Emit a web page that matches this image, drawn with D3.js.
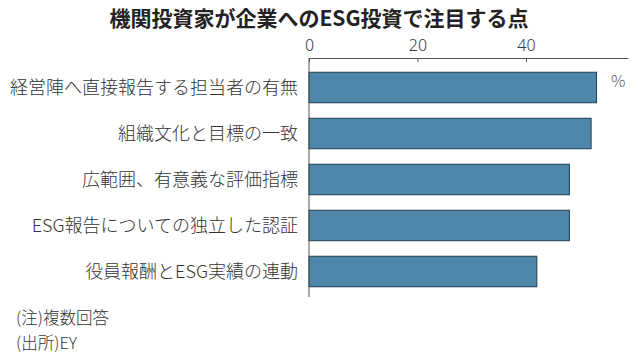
<!DOCTYPE html>
<html><head><meta charset="utf-8">
<script src="https://cdn.jsdelivr.net/npm/d3@7"></script>
<style>
html,body{margin:0;padding:0;background:#fff;}
svg{display:block;font-family:"Noto Sans CJK JP","Noto Sans",sans-serif;}
</style></head>
<body><svg id="c" width="638" height="357"></svg>
<script>
const title = "機関投資家が企業へのESG投資で注目する点";
const categories = ["経営陣へ直接報告する担当者の有無","組織文化と目標の一致","広範囲、有意義な評価指標","ESG報告についての独立した認証","役員報酬とESG実績の連動"];
const values = [53, 52, 48, 48, 42];
const tickValues = [0, 20, 40];
const unitLabel = "%";
const notes = ["(注)複数回答", "(出所)EY"];

const svg = d3.select("#c");
const x = d3.scaleLinear().domain([0, 58.8]).range([309, 628]);
const y = d3.scaleBand().domain(categories).range([64.5, 294.5]).paddingInner(0.337).paddingOuter(0.1685);

svg.append("text").attr("x", 319).attr("y", 26).attr("text-anchor", "middle")
  .attr("font-size", 21).attr("font-weight", 700).attr("fill", "#222").text(title);

// top axis
const ax = svg.append("g").attr("transform", "translate(0,58)")
  .call(d3.axisTop(x).tickValues(tickValues).tickSize(0).tickPadding(7));
ax.select(".domain").attr("stroke", "#555").attr("stroke-width", 1);
ax.selectAll("text").attr("font-size", 16).attr("fill", "#333").attr("font-weight", 300)
  .attr("font-family", "'Noto Sans','Noto Sans CJK JP',sans-serif");
ax.selectAll(".tick").append("line").attr("y1", 0).attr("y2", 4).attr("stroke", "#555");

// bars
svg.append("g").selectAll("rect").data(values).join("rect")
  .attr("x", x(0)).attr("y", (d, i) => y(categories[i]))
  .attr("width", d => x(d) - x(0)).attr("height", y.bandwidth())
  .attr("fill", "#4e87aa").attr("stroke", "#1f3d52").attr("stroke-width", 1);

// vertical axis line
svg.append("line").attr("x1", x(0)).attr("x2", x(0)).attr("y1", 58).attr("y2", 297)
  .attr("stroke", "#555").attr("stroke-width", 1);

// category labels
svg.append("g").selectAll("text").data(categories).join("text")
  .attr("x", 298).attr("y", d => y(d) + y.bandwidth() / 2).attr("dy", "0.35em")
  .attr("text-anchor", "end").attr("font-size", 18).attr("font-weight", 300).attr("fill", "#333").text(d => d);

svg.append("text").attr("x", 611).attr("y", 87).attr("font-size", 16).attr("font-weight", 300).attr("fill", "#555").text(unitLabel);

svg.append("g").selectAll("text").data(notes).join("text")
  .attr("x", 16).attr("y", (d, i) => 324 + i * 25).attr("font-size", 16.5).attr("font-weight", 300).attr("fill", "#333").text(d => d);
</script></body></html>
